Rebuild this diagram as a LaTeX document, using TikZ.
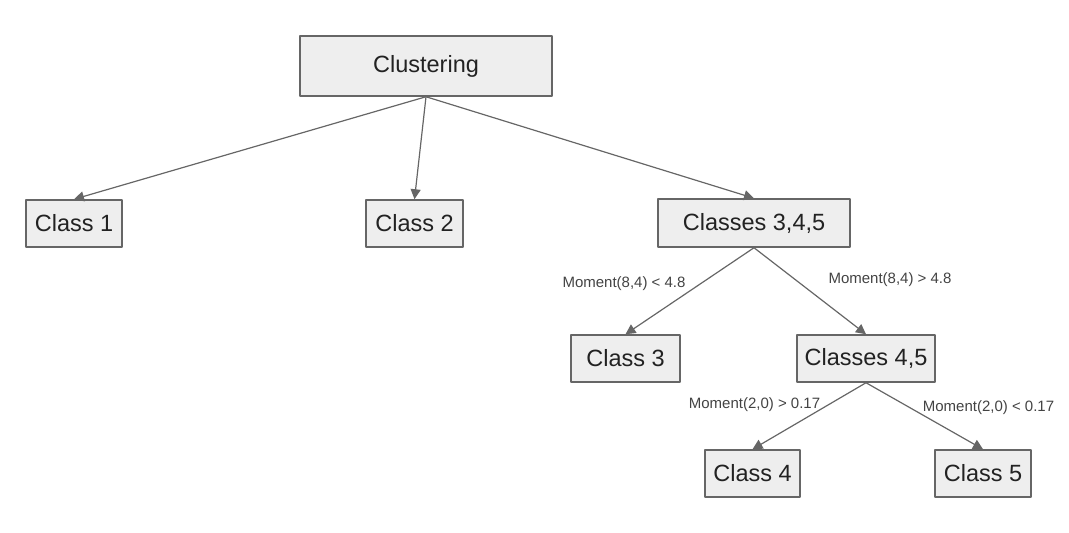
\documentclass[tikz,border=0pt]{standalone}
\usepackage{fontspec}
\setmainfont{Liberation Sans}
\usetikzlibrary{arrows.meta}
\definecolor{boxfill}{HTML}{EEEEEE}
\definecolor{boxline}{HTML}{666666}
\definecolor{txt}{HTML}{222222}
\begin{document}
\begin{tikzpicture}[line cap=round,line join=round,x=.5pt,y=-.5pt,
  box/.style={draw=boxline,line width=.75pt,fill=boxfill,text=txt,inner sep=0pt,font=\fontsize{11.75}{14}\selectfont},
  lbl/.style={inner sep=0pt,text=txt!85,font=\fontsize{7.5}{9}\selectfont},
  arr/.style={draw=boxline,line width=.6pt,-{Triangle[length=5pt,width=5pt]}}]
\useasboundingbox (0,0) rectangle (1069,533);
\node[box,minimum width=126pt,minimum height=30pt] (clust) at (426,66) {Clustering};
\node[box,minimum width=48pt,minimum height=23.5pt] (c1) at (74,223.5) {Class 1};
\node[box,minimum width=48.5pt,minimum height=23.5pt] (c2) at (414.5,223.5) {Class 2};
\node[box,minimum width=96pt,minimum height=24pt] (c345) at (754,223) {Classes 3,4,5};
\node[box,minimum width=54.5pt,minimum height=23.5pt] (c3) at (625.5,358.5) {Class 3};
\node[box,minimum width=69pt,minimum height=23.5pt] (c45) at (866,358.5) {Classes 4,5};
\node[box,minimum width=47.5pt,minimum height=23.5pt] (c4) at (752.5,473.5) {Class 4};
\node[box,minimum width=48pt,minimum height=23.5pt] (c5) at (983,473.5) {Class 5};
\draw[arr] (clust.south) -- (c1.north);
\draw[arr] (clust.south) -- (c2.north);
\draw[arr] (clust.south) -- (c345.north);
\draw[arr] (c345.south) -- (c3.north);
\draw[arr] (c345.south) -- (c45.north);
\draw[arr] (c45.south) -- (c4.north);
\draw[arr] (c45.south) -- (c5.north);
\node[lbl] (l1) at (624,284) {Moment(8,4) < 4.8};
\node[lbl] (l2) at (890,280) {Moment(8,4) > 4.8};
\node[lbl] (l3) at (754.5,405) {Moment(2,0) > 0.17};
\node[lbl] (l4) at (988.5,408) {Moment(2,0) < 0.17};
\end{tikzpicture}
\end{document}
